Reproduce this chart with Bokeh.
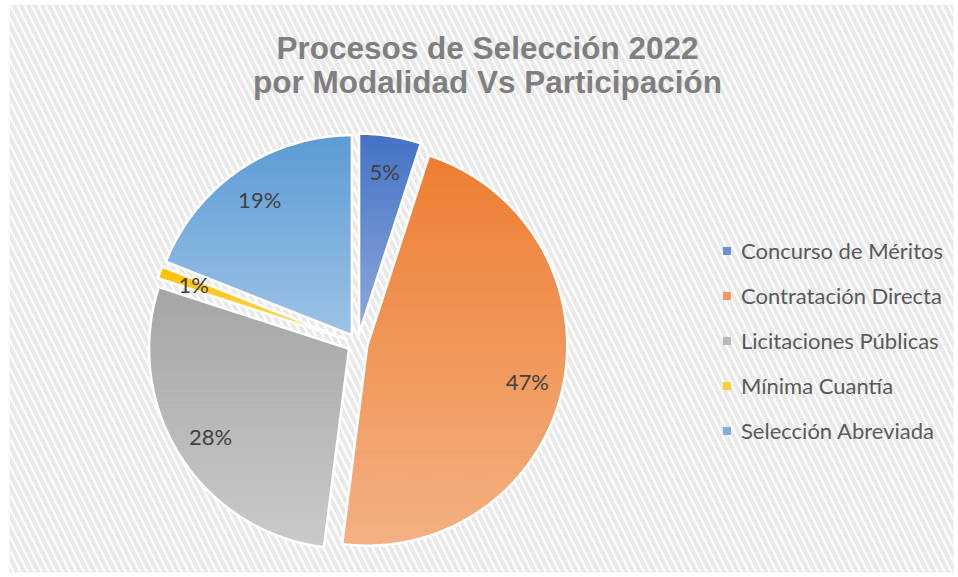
import numpy as np
from bokeh.plotting import figure
from bokeh.models import Range1d, BoxAnnotation, Label, Legend, LegendItem, ColumnDataSource
from bokeh.core.properties import value
from bokeh.embed import file_html
from bokeh.resources import INLINE

# ---------------- data ----------------
title_lines = ["Procesos de Selección 2022", "por Modalidad Vs Participación"]
categories = ["Concurso de Méritos", "Contratación Directa", "Licitaciones Públicas",
              "Mínima Cuantía", "Selección Abreviada"]
shares = [5, 47, 28, 1, 19]
pct_labels = ["5%", "47%", "28%", "1%", "19%"]
top_colors = ["#4472C4", "#ED7D31", "#A5A5A5", "#FFC000", "#5B9BD5"]
bottom_colors = ["#8FAADC", "#F4B183", "#CACACA", "#FFD966", "#9DC3E6"]

# ---------------- layout ----------------
W, H = 958, 577
CX, CY = 357.0, H - 343.0
R = 200.0
EXPLODE = 10.0
LABEL_R = 0.82 * R
NBANDS = 60


def hex2rgb(h):
    h = h.lstrip("#")
    return np.array([int(h[i:i + 2], 16) for i in (0, 2, 4)], dtype=float)


def mix(c0, c1, t):
    c = hex2rgb(c0) * (1 - t) + hex2rgb(c1) * t
    return "#%02x%02x%02x" % tuple(int(round(v)) for v in c)


def clip(poly, y, keep_above):
    out = []
    n = len(poly)
    for i in range(n):
        p, q = poly[i], poly[(i + 1) % n]
        pin = p[1] >= y if keep_above else p[1] <= y
        qin = q[1] >= y if keep_above else q[1] <= y
        if pin:
            out.append(p)
        if pin != qin:
            t = (y - p[1]) / (q[1] - p[1])
            out.append((p[0] + t * (q[0] - p[0]), y))
    return out


p = figure(width=W, height=H, x_range=Range1d(0, W), y_range=Range1d(0, H),
           output_backend="svg", toolbar_location=None, min_border=0,
           background_fill_color="white", border_fill_color="white")
p.axis.visible = False
p.grid.visible = False
p.outline_line_color = None

# chart area with diagonal pattern
p.add_layout(BoxAnnotation(left=9.5, right=952.5, bottom=H - 571.5, top=H - 4.5,
                           fill_color="white", fill_alpha=1.0,
                           hatch_pattern="\\", hatch_color="#e9e9e9", hatch_weight=4,
                           hatch_scale=14, hatch_alpha=1.0,
                           line_color="#d9d9d9", line_width=1, level="underlay"))

total = float(sum(shares))
cum = np.concatenate([[0.0], np.cumsum(shares)]) / total

band_renderers = []
outline_xs, outline_ys = [], []
lab_x, lab_y = [], []
for i, cat in enumerate(categories):
    a0, a1 = 2 * np.pi * cum[i], 2 * np.pi * cum[i + 1]
    mid = 0.5 * (a0 + a1)
    ox = CX + EXPLODE * np.sin(mid)
    oy = CY + EXPLODE * np.cos(mid)
    n = max(4, int(np.degrees(a1 - a0) * 2))
    th = np.linspace(a0, a1, n)
    poly = [(ox, oy)] + [(ox + R * np.sin(t), oy + R * np.cos(t)) for t in th]
    outline_xs.append([q[0] for q in poly])
    outline_ys.append([q[1] for q in poly])
    lab_x.append(ox + LABEL_R * np.sin(mid))
    lab_y.append(oy + LABEL_R * np.cos(mid))

    ymax = max(q[1] for q in poly)
    ymin = min(q[1] for q in poly)
    h = (ymax - ymin) / NBANDS
    bx, by, bc = [], [], []
    for b in range(NBANDS):
        yt = ymax - b * h
        yb = ymax - (b + 1) * h
        seg = clip(clip(poly, yb, True), yt, False)
        if len(seg) < 3:
            continue
        bx.append([q[0] for q in seg])
        by.append([q[1] for q in seg])
        bc.append(mix(top_colors[i], bottom_colors[i], (b + 0.5) / NBANDS))
    src = ColumnDataSource(dict(xs=bx, ys=by, c=bc))
    r = p.patches("xs", "ys", source=src, fill_color="c", line_color="c", line_width=1)
    band_renderers.append(r)

p.patches(outline_xs, outline_ys, fill_alpha=0, line_color="white", line_width=2.5,
          line_join="miter")

p.text(x=lab_x, y=lab_y, text=pct_labels, text_align="center", text_baseline="middle",
       text_font=value("Lato"), text_font_size="22px", text_color="#404040")

# title
for k, line in enumerate(title_lines):
    p.add_layout(Label(x=487, y=H - (47 + 34 * k), text=line, text_align="center",
                       text_baseline="alphabetic", text_font="Liberation Sans",
                       text_font_style="bold", text_font_size="31.5px",
                       text_color="#7F7F7F"))

items = []
for i, cat in enumerate(categories):
    r = band_renderers[i]
    idx = len(r.data_source.data["xs"]) // 2
    items.append(LegendItem(label=cat, renderers=[r], index=idx))

legend = Legend(items=items, location=(712, H - 454), orientation="vertical",
                glyph_width=9, glyph_height=9, label_height=20, spacing=18,
                padding=10, margin=0, label_standoff=10,
                label_text_font="Lato", label_text_font_size="22px",
                label_text_color="#595959",
                background_fill_alpha=0, border_line_alpha=0)
p.add_layout(legend)

open("out.html", "w").write(file_html(p, INLINE))
